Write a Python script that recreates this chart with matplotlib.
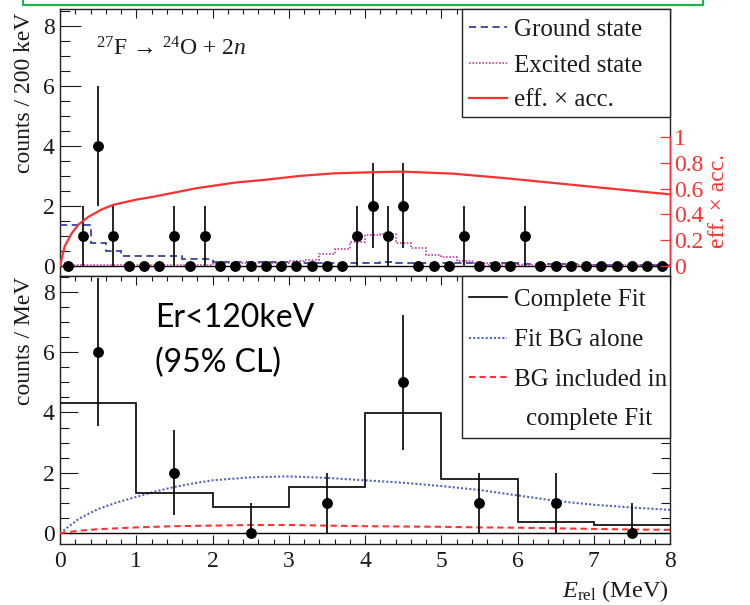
import numpy as np
import matplotlib.pyplot as plt
from matplotlib.lines import Line2D
from matplotlib.patches import Rectangle
from matplotlib.ticker import MultipleLocator

plt.rcParams['font.family'] = ['Liberation Serif', 'DejaVu Serif']
plt.rcParams['mathtext.fontset'] = 'custom'
plt.rcParams['mathtext.rm'] = 'Liberation Serif'
plt.rcParams['mathtext.it'] = 'Liberation Serif:italic'

W, H = 750, 605
SERIF = 'Liberation Serif'

################ top panel: counts / 200 keV ################
edges_200 = np.round(np.arange(0, 8.01, 0.2), 2)
centres_200 = (edges_200[:-1] + edges_200[1:]) / 2
counts_200 = [0, 1, 4, 1, 0, 0, 0, 1, 0, 1,
              0, 0, 0, 0, 0, 0, 0, 0, 0, 1,
              2, 1, 2, 0, 0, 0, 1, 0, 0, 0,
              1, 0, 0, 0, 0, 0, 0, 0, 0, 0]
err_200 = [0, 1, 2, 1, 0, 0, 0, 1, 0, 1,
           0, 0, 0, 0, 0, 0, 0, 0, 0, 1,
           1.41, 1, 1.41, 0, 0, 0, 1, 0, 0, 0,
           1, 0, 0, 0, 0, 0, 0, 0, 0, 0]
ground_200 = [1.36, 1.36, 0.77, 0.50, 0.33, 0.33, 0.33, 0.33, 0.21, 0.21,
              0.14, 0.14, 0.14, 0.14, 0.14, 0.10, 0.10, 0.10, 0.10, 0.10,
              0.10, 0.14, 0.08, 0.08, 0.08, 0.08, 0.08, 0.08, 0.08, 0.08,
              0.05, 0.05, 0.05, 0.05, 0.05, 0.04, 0.04, 0.04, 0.04, 0.04]
excited_200 = [0.02, 0.02, 0.02, 0.02, 0.02, 0.04, 0.04, 0.04, 0.04, 0.04,
               0.08, 0.08, 0.08, 0.08, 0.08, 0.15, 0.19, 0.38, 0.55, 0.80,
               1.02, 1.07, 0.75, 0.58, 0.36, 0.28, 0.17, 0.08, 0.04, 0.04,
               0.02, 0.02, 0.02, 0.02, 0.02, 0.02, 0.02, 0.02, 0.02, 0.02]
# efficiency x acceptance (right axis)
eff_x = [0.0, 0.06, 0.15, 0.24, 0.37, 0.55, 0.70, 1.0, 1.2, 1.5, 1.8, 2.3,
         2.7, 3.15, 3.6, 4.2, 4.5, 5.16, 5.8, 6.47, 7.13, 8.0]
eff_y = [0.0, 0.15, 0.25, 0.32, 0.38, 0.44, 0.475, 0.515, 0.535, 0.57, 0.605,
         0.648, 0.67, 0.70, 0.72, 0.73, 0.733, 0.717, 0.684, 0.645, 0.606, 0.556]

################ bottom panel: counts / MeV ################
edges_mev = [0, 1, 2, 3, 4, 5, 6, 7, 8]
centres_mev = [0.5, 1.5, 2.5, 3.5, 4.5, 5.5, 6.5, 7.5]
counts_mev = [6, 2, 0, 1, 5, 1, 1, 0]
err_lo_mev = [2.45, 1.41, 0, 1, 2.24, 1, 1, 0]
err_hi_mev = [2.45, 1.41, 1, 1, 2.24, 1, 1, 1]
fit_mev = [4.30, 1.34, 0.86, 1.54, 3.99, 1.81, 0.36, 0.27]
bg_x = [0, 0.25, 0.5, 0.75, 1.0, 1.25, 1.5, 1.75, 2.0, 2.5, 3.0, 3.5, 4.0,
        4.5, 5.0, 5.5, 6.0, 6.5, 7.0, 7.5, 8.0]
bg_alone = [0, 0.48, 0.80, 1.02, 1.20, 1.38, 1.53, 1.65, 1.75, 1.85, 1.88, 1.83,
            1.75, 1.67, 1.56, 1.43, 1.25, 1.07, 0.94, 0.85, 0.77]
bg_incl = [0, 0.08, 0.13, 0.16, 0.19, 0.21, 0.23, 0.24, 0.25, 0.27, 0.27, 0.25,
           0.23, 0.22, 0.21, 0.19, 0.18, 0.16, 0.14, 0.12, 0.11]

RED = '#ff3030'
BLUE = '#34449c'
MAGENTA = '#c040a8'
BGBLUE = '#5565b5'
TXT = '#1a1a1a'
eff_scale = 4.277   # 1 on the eff axis sits at 4.277 counts

fig = plt.figure(figsize=(W / 100, H / 100), dpi=100)
left, width = 60 / W, 610 / W
ax1 = fig.add_axes([left, 1 - 276 / H, width, 267 / H])
ax2 = fig.add_axes([left, 1 - 544 / H, width, 268 / H])


def style(ax, ylen, ylim, top_ticks=True, bottom_ticks=True, right_ticks=True):
    ax.set_xlim(0, 8)
    ax.set_ylim(*ylim)
    ax.xaxis.set_major_locator(MultipleLocator(1))
    ax.xaxis.set_minor_locator(MultipleLocator(0.2))
    ax.yaxis.set_major_locator(MultipleLocator(2))
    ax.yaxis.set_minor_locator(MultipleLocator(0.5))
    ax.tick_params(axis='x', which='both', direction='in', top=top_ticks,
                   bottom=bottom_ticks, width=0.8, colors=TXT, labelsize=17,
                   pad=5, labelfontfamily=SERIF)
    ax.tick_params(axis='x', which='major', length=6.5)
    ax.tick_params(axis='x', which='minor', length=3.3)
    ax.tick_params(axis='y', which='both', direction='in', left=True,
                   right=right_ticks, width=0.8, colors=TXT, labelsize=17,
                   pad=4, labelfontfamily=SERIF)
    ax.tick_params(axis='y', which='major', length=ylen)
    ax.tick_params(axis='y', which='minor', length=ylen / 2)
    for s in ax.spines.values():
        s.set_linewidth(1.0)
        s.set_color('#222222')


# ---- top panel ----
ax1.axhline(0, color='black', lw=1.0, zorder=2)
ax1.stairs(ground_200, edges_200, baseline=None, color=BLUE, lw=1.3,
           linestyle=(0, (4, 2.5)), zorder=3)
ax1.stairs(excited_200, edges_200, baseline=None, color=MAGENTA, lw=1.2,
           linestyle=(0, (1, 1)), zorder=3)
ax1.errorbar(centres_200, counts_200, yerr=err_200, fmt='o', color='black',
             ms=6.8, elinewidth=1.2, capsize=0, zorder=5)
style(ax1, 15, (-0.34, 8.55), bottom_ticks=False, right_ticks=False)
ax1.tick_params(axis='x', labelbottom=False)

axe = ax1.twinx()
axe.plot(eff_x, eff_y, color=RED, lw=1.6, zorder=4)
axe.set_xlim(0, 8)
axe.set_ylim(-0.34 / eff_scale, 8.55 / eff_scale)
axe.set_yticks([0, 0.2, 0.4, 0.6, 0.8, 1.0])
axe.set_yticklabels(['0', '0.2', '0.4', '0.6', '0.8', '1'])
axe.tick_params(axis='y', direction='in', length=7, width=0.9, colors=RED,
                labelsize=17, pad=3, labelfontfamily=SERIF)
for side in ['top', 'bottom', 'left']:
    axe.spines[side].set_visible(False)
axe.spines['right'].set_color(RED)
axe.spines['right'].set_bounds(0, 1)
axe.spines['right'].set_linewidth(1.0)

fig.text(25 / W, 1 - 13 / H, 'counts / 200 keV', rotation=90, ha='center',
         va='top', fontsize=17, color=TXT)
fig.text(718 / W, 1 - 201 / H, 'eff. × acc.', rotation=90, ha='center',
         va='center', fontsize=17, color=RED)
fig.text(96 / W, 1 - 55 / H, '$^{27}$F \u2192 $^{24}$O + 2$n$',
         ha='left', va='baseline', fontsize=17, color=TXT)

# ---- bottom panel ----
ax2.axhline(0, color='black', lw=1.0, zorder=2)
ax2.plot(bg_x, bg_alone, color=BGBLUE, lw=1.5, linestyle=(0, (1, 1)), zorder=3)
ax2.plot(bg_x, bg_incl, color=RED, lw=1.5, linestyle=(0, (3, 2)), zorder=3)
ax2.stairs(fit_mev, edges_mev, baseline=None, color='black', lw=1.2, zorder=4)
ax2.errorbar(centres_mev, counts_mev, yerr=[err_lo_mev, err_hi_mev], fmt='o',
             color='black', ms=6.8, elinewidth=1.2, capsize=0, zorder=5)
style(ax2, 13, (-0.36, 8.52))

fig.text(25 / W, 1 - 277 / H, 'counts / MeV', rotation=90, ha='center',
         va='top', fontsize=17, color=TXT)
fig.text(669 / W, 1 - 597 / H, r'$E_{\rm rel}$ (MeV)', ha='right',
         va='baseline', fontsize=17.5, color=TXT)
fig.text(155 / W, 1 - 327 / H, 'Er<120keV', ha='left', va='baseline',
         fontsize=23, family='Lato', color='black')
fig.text(155 / W, 1 - 372 / H, '(95% CL)', ha='left', va='baseline',
         fontsize=23, family='Lato', color='black')


# ---- legends (drawn in figure pixels) ----
def legend_box(x0, y0, x1, y1, entries):
    fig.patches.append(Rectangle((x0 / W, 1 - y1 / H), (x1 - x0) / W,
                                 (y1 - y0) / H, transform=fig.transFigure,
                                 facecolor='white', edgecolor='#222222',
                                 lw=1.0, zorder=10))
    for y, label, style_kw in entries:
        fig.lines.append(Line2D([469 / W, 507 / W], [1 - y / H, 1 - y / H],
                                transform=fig.transFigure, zorder=11,
                                **style_kw))
        fig.text(514 / W, 1 - y / H, label, ha='left', va='center_baseline',
                 fontsize=18, color=TXT, zorder=12)


legend_box(462, 9, 670, 117, [
    (27, 'Ground state', dict(color=BLUE, lw=1.3, linestyle=(0, (4, 2.5)))),
    (63, 'Excited state', dict(color=MAGENTA, lw=1.2, linestyle=(0, (1, 1)))),
    (98, 'eff. × acc.', dict(color=RED, lw=1.6)),
])
legend_box(462, 276, 670, 438, [
    (297, 'Complete Fit', dict(color='black', lw=1.2)),
    (338, 'Fit BG alone', dict(color=BGBLUE, lw=1.5, linestyle=(0, (1, 1)))),
    (377, 'BG included in', dict(color=RED, lw=1.5, linestyle=(0, (3, 2)))),
])
fig.text(589 / W, 1 - 416 / H, 'complete Fit', ha='center',
         va='center_baseline', fontsize=18, color=TXT, zorder=12)

# green frame cut at the top of the page
fig.lines.append(Line2D([23 / W, 23 / W, 703 / W, 703 / W],
                        [1, 1 - 5 / H, 1 - 5 / H, 1],
                        transform=fig.transFigure, color='#22b14c', lw=1.6))

fig.savefig('out.png', dpi=100)
